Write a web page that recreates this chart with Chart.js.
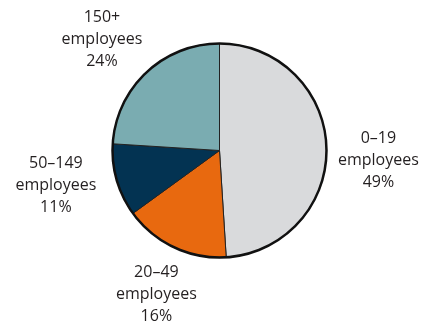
<!DOCTYPE html>
<html>
<head>
<meta charset="utf-8">
<script src="https://cdn.jsdelivr.net/npm/chart.js@4.4.1/dist/chart.umd.min.js"></script>
<style>
html, body { margin: 0; padding: 0; background: #fff; }
#wrap { width: 422px; height: 323px; }
</style>
</head>
<body>
<div id="wrap"><canvas id="sizeChart" width="422" height="323"></canvas></div>
<script>

// firm size groups and their share of firms (%)
const sizeGroups = ["0\u201319", "20\u201349", "50\u2013149", "150+"];
const shares = [49, 16, 11, 24];
const sliceColors = ["#d9dadc", "#e8690f", "#033352", "#7aacb1"];

// small hand nudges so labels don't sit exactly on the radial line
const labelNudge = [[-1, 15], [5, -1], [-10, -10], [-8, 6]];


/* outer ring + slice labels */

const pieLabels = {
  id: "pieLabels",
  afterDatasetsDraw(chart) {
    const ctx = chart.ctx;
    const arcs = chart.getDatasetMeta(0).data;
    if (!arcs.length) return;

    const first = arcs[0];
    ctx.save();
    ctx.beginPath();
    ctx.arc(first.x, first.y, first.outerRadius, 0, Math.PI * 2);
    ctx.lineWidth = 2.5;
    ctx.strokeStyle = "#111";
    ctx.stroke();

    ctx.font = "16px 'Open Sans'";
    ctx.fillStyle = "#231f20";
    ctx.textAlign = "center";
    ctx.textBaseline = "middle";

    arcs.forEach((arc, i) => {
      const mid = (arc.startAngle + arc.endAngle) / 2;
      const dist = arc.outerRadius + 53;
      const cx = arc.x + Math.cos(mid) * dist + labelNudge[i][0];
      const cy = arc.y + Math.sin(mid) * dist + labelNudge[i][1];
      const lines = [sizeGroups[i], "employees", shares[i] + "%"];
      lines.forEach((t, k) => {
        ctx.fillText(t, cx, cy + (k - 1) * 22);
      });
    });
    ctx.restore();
  }
};


const ctx = document.getElementById("sizeChart").getContext("2d");

const chart = new Chart(ctx, {
  type: "pie",
  data: {
    labels: sizeGroups,
    datasets: [{
      data: shares,
      backgroundColor: sliceColors,
      borderColor: "#222",
      borderWidth: 1
    }]
  },
  options: {
    responsive: false,
    animation: false,
    radius: 107,
    layout: { padding: { left: 17, right: 0, top: 0, bottom: 22 } },
    plugins: {
      legend: { display: false },
      tooltip: { enabled: false }
    }
  },
  plugins: [pieLabels]
});

</script>
</body>
</html>
